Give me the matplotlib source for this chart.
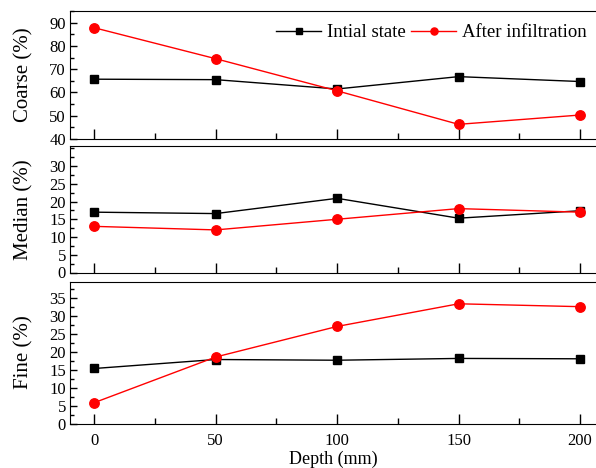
import matplotlib
matplotlib.use("Agg")
import matplotlib.pyplot as plt
from matplotlib.ticker import MultipleLocator

plt.rcParams.update({"font.family": "Liberation Serif", "font.size": 12,
                     "xtick.direction": "in", "ytick.direction": "in"})

depth = [0, 50, 100, 150, 200]
coarse_init = [65.7, 65.5, 61.5, 66.8, 64.7]
coarse_after = [87.8, 74.5, 60.7, 46.3, 50.3]
median_init = [17.0, 16.6, 20.9, 15.3, 17.4]
median_after = [13.0, 12.0, 15.0, 18.0, 17.0]
fine_init = [15.3, 17.8, 17.6, 18.1, 18.0]
fine_after = [5.8, 18.5, 27.0, 33.3, 32.5]

W, H = 596, 468
fig = plt.figure(figsize=(W / 100, H / 100), dpi=100)
left = 70 / W
# (top px, bottom px) of each panel
rows = [(11, 139), (146.5, 272.5), (281.5, 423.5)]
panels = [
    ("Coarse (%)", coarse_init, coarse_after, (40, 95), 5, range(40, 91, 10)),
    ("Median (%)", median_init, median_after, (0, 35.5), 2.5, range(0, 31, 5)),
    ("Fine (%)", fine_init, fine_after, (0, 39.5), 2.5, range(0, 36, 5)),
]
axes = []
for (t, b), (lab, yi, ya, ylim, mnr, ticks) in zip(rows, panels):
    ax = fig.add_axes([left, 1 - b / H, 1 - left, (b - t) / H])
    ax.plot(depth, yi, color="black", lw=1.0, marker="s", ms=6, label="Intial state")
    ax.plot(depth, ya, color="red", lw=1.0, marker="o", ms=6.8, label="After infiltration")
    ax.set_xlim(-10, 206.6)
    ax.set_ylim(*ylim)
    ax.set_yticks(list(ticks))
    ax.yaxis.set_minor_locator(MultipleLocator(mnr))
    ax.xaxis.set_major_locator(MultipleLocator(50))
    ax.xaxis.set_minor_locator(MultipleLocator(25))
    ax.spines["right"].set_visible(False)
    ax.tick_params(which="major", length=7, width=1, labelsize=12)
    ax.tick_params(which="minor", length=4, width=1)
    ax.tick_params(axis="x", which="major", pad=7)
    ax.tick_params(axis="y", which="major", length=5, pad=3)
    ax.tick_params(axis="y", which="minor", length=3)
    ax.set_ylabel(lab, fontsize=15)
    axes.append(ax)

for ax in axes[:2]:
    ax.tick_params(labelbottom=False)
axes[0].legend(loc="upper right", ncol=2, frameon=False, fontsize=13.5,
               handlelength=2.4, handletextpad=0.3, columnspacing=0.3,
               markerscale=0.75, bbox_to_anchor=(1.0, 0.97), borderaxespad=0.1)
axes[2].set_xlabel("Depth (mm)", fontsize=13, labelpad=1)
for ax in axes:
    ax.yaxis.set_label_coords(-0.07, 0.5)

fig.savefig("out.png", dpi=100)
